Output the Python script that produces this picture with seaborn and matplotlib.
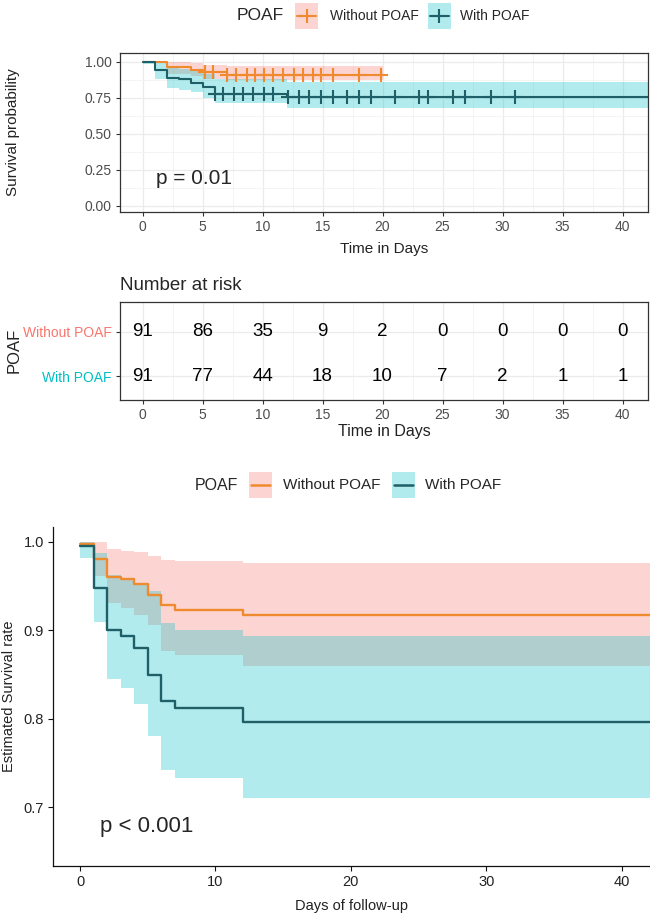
import numpy as np
import pandas as pd
import seaborn as sns
import matplotlib.pyplot as plt
from matplotlib.patches import Rectangle
from matplotlib.lines import Line2D

W, H = 650, 916

# ---------------- upper panel: Kaplan-Meier (Time in Days)
groups = ["Without POAF", "With POAF"]

km_time_wo = [0, 2, 4, 5, 7, 20]
km_surv_wo = [1.0, 0.967, 0.945, 0.93, 0.912, 0.912]
km_up_wo = [1.0, 1.0, 0.99, 0.98, 0.972, 0.972]
km_lo_wo = [1.0, 0.915, 0.90, 0.885, 0.875, 0.875]
km_cens_wo = [5.2, 5.9, 7.0, 7.8, 8.7, 9.4, 10.1, 10.9, 11.7, 12.6, 13.4,
              14.2, 14.9, 15.9, 18.0, 19.9]

km_time_w = [0, 1, 2, 3, 4, 5, 6, 12, 44]
km_surv_w = [1.0, 0.945, 0.89, 0.879, 0.857, 0.824, 0.78, 0.758, 0.758]
km_up_w = [1.0, 0.99, 0.96, 0.952, 0.94, 0.915, 0.88, 0.858, 0.858]
km_lo_w = [0.985, 0.88, 0.817, 0.807, 0.79, 0.748, 0.713, 0.679, 0.679]
km_cens_w = [6.0, 6.7, 7.6, 8.4, 9.2, 10.1, 10.9, 12.1, 13.0, 13.9, 14.9,
             15.9, 17.0, 18.0, 19.0, 21.0, 23.0, 23.8, 25.9, 26.9, 29.0, 31.0]

p_top = "p = 0.01"

# ---------------- number at risk
risk_times = [0, 5, 10, 15, 20, 25, 30, 35, 40]
risk_wo = [91, 86, 35, 9, 2, 0, 0, 0, 0]
risk_w = [91, 77, 44, 18, 10, 7, 2, 1, 1]

# ---------------- lower panel: estimated survival (Days of follow-up)
adj_time = [0, 1, 2, 3, 4, 5, 6, 7, 12, 44]
adj_surv_wo = [0.998, 0.980, 0.960, 0.958, 0.952, 0.940, 0.928, 0.923, 0.917, 0.917]
adj_up_wo = [1.0, 1.0, 0.992, 0.990, 0.988, 0.984, 0.979, 0.978, 0.976, 0.976]
adj_lo_wo = [0.994, 0.961, 0.931, 0.925, 0.917, 0.906, 0.877, 0.872, 0.860, 0.860]
adj_surv_w = [0.995, 0.948, 0.900, 0.893, 0.880, 0.850, 0.820, 0.812, 0.796, 0.796]
adj_up_w = [1.0, 0.987, 0.962, 0.957, 0.952, 0.944, 0.908, 0.900, 0.893, 0.893]
adj_lo_w = [0.982, 0.909, 0.845, 0.835, 0.817, 0.780, 0.742, 0.733, 0.710, 0.710]

p_bottom = "p < 0.001"

PINK, CYAN = "#F8766D", "#00BFC4"
ORANGE, TEAL = "#EF8A2E", "#1F5F68"
GRID = "#EBEBEB"

sns.set_theme(style="white")
plt.rcParams["font.family"] = ["Liberation Sans", "DejaVu Sans"]


def rect_px(x0, y0, x1, y1):
    return [x0 / W, 1 - y1 / H, (x1 - x0) / W, (y1 - y0) / H]


def step_at(times, vals, t):
    idx = np.searchsorted(times, t, side="right") - 1
    return np.asarray(vals)[idx]


def curve(ax, times, surv, lo, up, fill, line, lw):
    ax.fill_between(times, lo, up, step="post", color=fill, alpha=0.3, lw=0)
    df = pd.DataFrame({"t": times, "s": surv})
    sns.lineplot(data=df, x="t", y="s", ax=ax, color=line, lw=lw,
                 drawstyle="steps-post", estimator=None, errorbar=None)


fig = plt.figure(figsize=(W / 100, H / 100), dpi=100)

# ================= upper panel
ax1 = fig.add_axes(rect_px(120, 53.3, 648, 211.7))
ax1.fill_between(km_time_wo, km_lo_wo, km_up_wo, step="post", color=PINK, alpha=0.3, lw=0)
ax1.fill_between(km_time_w, km_lo_w, km_up_w, step="post", color=CYAN, alpha=0.3, lw=0)
for times, surv, col in [(km_time_wo, km_surv_wo, ORANGE), (km_time_w, km_surv_w, TEAL)]:
    sns.lineplot(x=times, y=surv, ax=ax1, color=col, lw=1.5,
                 drawstyle="steps-post", estimator=None, errorbar=None)
for times, surv, cens, col in [(km_time_wo, km_surv_wo, km_cens_wo, ORANGE),
                               (km_time_w, km_surv_w, km_cens_w, TEAL)]:
    sns.scatterplot(x=cens, y=step_at(times, surv, cens), ax=ax1, marker="+",
                    s=90, color=col, linewidth=1.5, zorder=4)
ax1.text(1.1, 0.19, p_top, fontsize=15, va="center", ha="left")
ax1.set_xlim(-1.88, 42.12)
ax1.set_ylim(-0.04, 1.06)
ax1.set_xticks(range(0, 41, 5))
ax1.set_xticks(np.arange(2.5, 42, 5), minor=True)
ax1.set_yticks([0, 0.25, 0.5, 0.75, 1.0])
ax1.set_yticks([0.125, 0.375, 0.625, 0.875], minor=True)
ax1.set_yticklabels(["0.00", "0.25", "0.50", "0.75", "1.00"])
ax1.grid(which="major", color=GRID, lw=0.9)
ax1.grid(which="minor", color="#F3F3F3", lw=0.6)
ax1.set_axisbelow(True)
ax1.tick_params(which="major", length=3, width=0.8, color="#333333",
                labelsize=10, labelcolor="#4D4D4D", pad=3, bottom=True, left=True)
ax1.tick_params(which="minor", length=0)
for s in ax1.spines.values():
    s.set_color("#333333")
    s.set_linewidth(0.9)
ax1.set_xlabel("Time in Days", fontsize=11, color="#222222")
ax1.set_ylabel("Survival probability", fontsize=11, color="#222222")
ax1.xaxis.set_label_coords(0.5, -0.19)
ax1.yaxis.set_label_coords(-0.189, 0.5)

# ================= risk table
ax2 = fig.add_axes(rect_px(120, 302.3, 648, 400))
for y, counts in [(2, risk_wo), (1, risk_w)]:
    for t, n in zip(risk_times, counts):
        ax2.text(t, y, str(n), ha="center", va="center", fontsize=13.5, color="black")
ax2.set_xlim(-1.88, 42.12)
ax2.set_ylim(0.46, 2.66)
ax2.set_xticks(risk_times)
ax2.set_xticks(np.arange(2.5, 42, 5), minor=True)
ax2.set_yticks([1, 2])
ax2.set_yticklabels([groups[1], groups[0]])
for lab, col in zip(ax2.get_yticklabels(), [CYAN, PINK]):
    lab.set_color(col)
ax2.grid(which="major", color=GRID, lw=0.9)
ax2.grid(which="minor", axis="x", color="#F3F3F3", lw=0.6)
ax2.set_axisbelow(True)
ax2.tick_params(which="major", length=3, width=0.8, color="#333333", labelsize=10,
                pad=3, bottom=True, left=True)
ax2.tick_params(axis="x", labelcolor="#4D4D4D")
ax2.tick_params(which="minor", length=0)
for s in ax2.spines.values():
    s.set_color("#333333")
    s.set_linewidth(0.9)
ax2.set_xlabel("Time in Days", fontsize=11.5, color="#222222")
ax2.set_ylabel("POAF", fontsize=12, color="#222222")
ax2.xaxis.set_label_coords(0.5, -0.25)
ax2.yaxis.set_label_coords(-0.187, 0.512)
ax2.text(0, 1.177, "Number at risk", transform=ax2.transAxes, fontsize=13.5,
         ha="left", va="center")

# ================= lower panel
ax3 = fig.add_axes(rect_px(53, 526.7, 650, 865.7))
curve(ax3, adj_time, adj_surv_wo, adj_lo_wo, adj_up_wo, PINK, ORANGE, 1.7)
curve(ax3, adj_time, adj_surv_w, adj_lo_w, adj_up_w, CYAN, TEAL, 1.7)
ax3.text(1.45, 0.678, p_bottom, fontsize=16, va="center", ha="left")
ax3.set_xlim(-2.0, 42.1)
ax3.set_ylim(0.634, 1.017)
ax3.set_xticks([0, 10, 20, 30, 40])
ax3.set_yticks([0.7, 0.8, 0.9, 1.0])
ax3.set_yticklabels(["0.7", "0.8", "0.9", "1.0"])
sns.despine(ax=ax3)
for side in ["left", "bottom"]:
    ax3.spines[side].set_color("#111111")
    ax3.spines[side].set_linewidth(0.9)
ax3.tick_params(length=3.5, width=0.8, color="#111111", labelsize=10.5,
                labelcolor="#222222", pad=3, bottom=True, left=True)
ax3.set_xlabel("Days of follow-up", fontsize=10.5, color="#222222")
ax3.set_ylabel("Estimated Survival rate", fontsize=10.5, color="#222222")
ax3.xaxis.set_label_coords(0.5, -0.097)
ax3.yaxis.set_label_coords(-0.062, 0.5)


# ================= legends (figure pixel positions)
def fx(x):
    return x / W


def fy(y):
    return 1 - y / H


def legend_row(yc, title_x, title_size, keys, text_size, key_h, marker, lw):
    fig.text(fx(title_x), fy(yc), "POAF", fontsize=title_size, ha="left", va="center")
    for kx, label, tx, fill, line in keys:
        fig.add_artist(Rectangle((fx(kx), fy(yc + key_h / 2)), 23 / W, key_h / H,
                                 transform=fig.transFigure, facecolor=fill,
                                 alpha=0.3, lw=0))
        fig.add_artist(Line2D([fx(kx + 2), fx(kx + 21)], [fy(yc), fy(yc)],
                              transform=fig.transFigure, color=line, lw=lw))
        if marker:
            fig.add_artist(Line2D([fx(kx + 11.5)], [fy(yc)], transform=fig.transFigure,
                                  color=line, marker="+", ms=10, mew=1.5, lw=0))
        fig.text(fx(tx), fy(yc), label, fontsize=text_size, ha="left", va="center")


legend_row(16, 237, 12.5,
           [(295, groups[0], 330, PINK, ORANGE), (428, groups[1], 460, CYAN, TEAL)],
           10, 25, True, 1.5)
legend_row(485, 195, 11.5,
           [(249, groups[0], 283, PINK, ORANGE), (392, groups[1], 425, CYAN, TEAL)],
           11, 25.6, False, 1.8)

fig.savefig("out.png", dpi=100)
